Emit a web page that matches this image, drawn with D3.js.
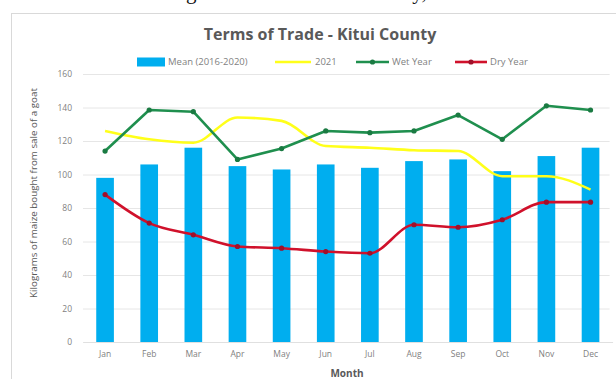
<!DOCTYPE html>
<html>
<head>
<meta charset="utf-8">
<script src="https://cdn.jsdelivr.net/npm/d3@7"></script>
<style>
  html, body { margin: 0; padding: 0; background: #fff; }
  svg { display: block; }
</style>
</head>
<body>
<svg id="chart" width="616" height="379"></svg>
<script>
// Terms of trade data (kg of maize bought from the sale of a goat)
const months = ["Jan","Feb","Mar","Apr","May","Jun","Jul","Aug","Sep","Oct","Nov","Dec"];
const meanValues = [98, 106, 116, 105, 103, 106, 104, 108, 109, 102, 111, 116];
const y2021Values = [126, 121, 119, 134, 132, 117, 116, 114.5, 114, 99, 99, 91];
const wetValues = [114, 138.5, 137.5, 109, 115.5, 126, 125, 126, 135.5, 121, 141, 138.5];
const dryValues = [88, 71, 64, 57, 56, 54, 53, 70, 68.5, 73, 83.5, 83.5];
const yTicks = [0, 20, 40, 60, 80, 100, 120, 140, 160];

const svg = d3.select("#chart");
const FONT = "Open Sans, sans-serif";

// Body text line of the surrounding page, running off the top edge
const bodyLine = "which showed a deteriorating trend in the month of May, when the rate of";
const bt = svg.append("text")
  .attr("x", 0).attr("y", -1)
  .attr("font-family", "Liberation Serif, serif")
  .attr("font-size", 21)
  .attr("fill", "#111")
  .text(bodyLine);
{
  const node = bt.node();
  const gIdx = bodyLine.indexOf("deteriorating") + "deteriorating".length - 1;
  const gx = node.getStartPositionOfChar(gIdx).x;
  bt.attr("x", 186 - gx);
}

// Chart frame
svg.append("rect")
  .attr("x", 11.5).attr("y", 13.5)
  .attr("width", 620).attr("height", 380)
  .attr("fill", "#fff")
  .attr("stroke", "#d9d9d9");

const plot = { left: 83, right: 612.6, top: 74, bottom: 342 };

const x = d3.scaleBand().domain(months).range([plot.left, plot.right]).paddingInner(0.6).paddingOuter(0.3);
const xc = d => x(d) + x.bandwidth() / 2;
const y = d3.scaleLinear().domain([0, 160]).range([plot.bottom, plot.top]);

// Title
svg.append("text")
  .attr("x", 320).attr("y", 40)
  .attr("text-anchor", "middle")
  .attr("font-family", FONT)
  .attr("font-weight", "bold")
  .attr("font-size", 16)
  .attr("fill", "#595959")
  .text("Terms of Trade - Kitui County");

// Gridlines + y axis labels
const yAxis = d3.axisLeft(y).tickValues(yTicks).tickSize(-(plot.right - plot.left - 3)).tickFormat(d3.format("d"));
const gy = svg.append("g").attr("transform", `translate(${plot.left},0)`).call(yAxis);
gy.select(".domain").remove();
gy.selectAll(".tick line").attr("stroke", "#e6e6e6");
gy.selectAll(".tick text")
  .attr("x", -11)
  .attr("font-family", FONT)
  .attr("font-size", 8.5)
  .attr("fill", "#7f7f7f");

// X axis labels
const xAxis = d3.axisBottom(x).tickSize(0).tickPadding(9);
const gx = svg.append("g").attr("transform", `translate(0,${plot.bottom})`).call(xAxis);
gx.select(".domain").attr("stroke", "#e0e0e0");
gx.selectAll(".tick text")
  .attr("font-family", FONT)
  .attr("font-size", 8.5)
  .attr("fill", "#7f7f7f");

// Axis titles
svg.append("text")
  .attr("transform", `translate(37,193) rotate(-90)`)
  .attr("text-anchor", "middle")
  .attr("font-family", FONT)
  .attr("font-size", 9.8)
  .attr("fill", "#595959")
  .text("Kilograms of maize bought from sale of a goat");

svg.append("text")
  .attr("x", 347).attr("y", 377)
  .attr("text-anchor", "middle")
  .attr("font-family", FONT)
  .attr("font-weight", "bold")
  .attr("font-size", 10)
  .attr("fill", "#595959")
  .text("Month");

// Mean bars
svg.append("g").selectAll("rect")
  .data(months)
  .join("rect")
  .attr("x", d => x(d))
  .attr("width", x.bandwidth())
  .attr("y", (d, i) => y(meanValues[i]))
  .attr("height", (d, i) => y(0) - y(meanValues[i]))
  .attr("fill", "#00AEEF");

function drawLine(values, color, curve, markers) {
  const line = d3.line()
    .x((d, i) => xc(months[i]))
    .y(d => y(d))
    .curve(curve);
  svg.append("path")
    .datum(values)
    .attr("d", line)
    .attr("fill", "none")
    .attr("stroke", color)
    .attr("stroke-width", 2.6)
    .attr("stroke-linejoin", "round");
  if (markers) {
    svg.append("g").selectAll("circle")
      .data(values)
      .join("circle")
      .attr("cx", (d, i) => xc(months[i]))
      .attr("cy", d => y(d))
      .attr("r", 2.6)
      .attr("fill", markers);
  }
}

drawLine(y2021Values, "#FFFF1A", d3.curveMonotoneX, null);
drawLine(wetValues, "#1F8F4E", d3.curveLinear, "#1A7A42");
drawLine(dryValues, "#D0112B", d3.curveMonotoneX, "#A0102A");

// Legend
const legend = svg.append("g")
  .attr("font-family", FONT)
  .attr("font-size", 9.5)
  .attr("fill", "#7f7f7f");
const ly = 62;
legend.append("rect").attr("x", 137).attr("y", ly - 4.5).attr("width", 28).attr("height", 9).attr("fill", "#00AEEF");
legend.append("text").attr("x", 168).attr("y", ly + 3.3).text("Mean (2016-2020)");
legend.append("line").attr("x1", 275).attr("x2", 311).attr("y1", ly).attr("y2", ly).attr("stroke", "#FFFF1A").attr("stroke-width", 2.6);
legend.append("text").attr("x", 315).attr("y", ly + 3.3).text("2021");
legend.append("line").attr("x1", 356).attr("x2", 389).attr("y1", ly).attr("y2", ly).attr("stroke", "#1F8F4E").attr("stroke-width", 2.6);
legend.append("circle").attr("cx", 372.5).attr("cy", ly).attr("r", 2.6).attr("fill", "#1A7A42");
legend.append("text").attr("x", 392).attr("y", ly + 3.3).text("Wet Year");
legend.append("line").attr("x1", 455).attr("x2", 487).attr("y1", ly).attr("y2", ly).attr("stroke", "#D0112B").attr("stroke-width", 2.6);
legend.append("circle").attr("cx", 471).attr("cy", ly).attr("r", 2.6).attr("fill", "#A0102A");
legend.append("text").attr("x", 490).attr("y", ly + 3.3).text("Dry Year");
</script>
</body>
</html>
